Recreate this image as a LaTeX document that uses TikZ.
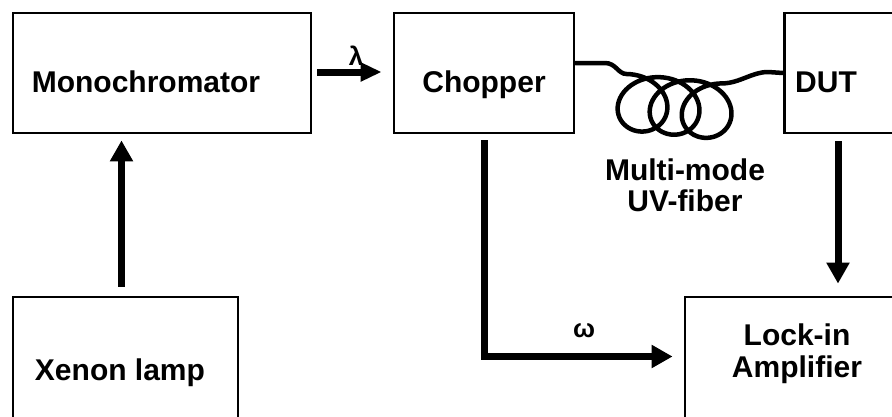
\documentclass[tikz,border=0pt]{standalone}
\usepackage{fontspec}
\setmainfont{Liberation Sans}
\usetikzlibrary{arrows.meta,calc}
\begin{document}
\begin{tikzpicture}[x=1pt,y=-1pt,
  box/.style={draw, line width=2.8pt, inner sep=0pt},
  lbl/.style={font=\fontsize{30}{34}\selectfont\bfseries, anchor=base, inner sep=0pt},
  sym/.style={font=\fontsize{26}{30}\selectfont\bfseries, anchor=base, inner sep=0pt},
  arr/.style={line width=7pt, -{Triangle[length=21pt,width=22pt]}},
  arrsmall/.style={line width=7pt, -{Triangle[length=21pt,width=18pt]}},
  fiber/.style={line width=4.5pt, line join=round, line cap=round}
]
\useasboundingbox (0,0) rectangle (892,416);
\clip (0,0) rectangle (892,416);
% boxes
\node[box, minimum width=298pt, minimum height=120pt] (mono) at (162,73) {};
\node[box, minimum width=180pt, minimum height=120pt] (chop) at (484,73) {};
\node[box, minimum width=175pt, minimum height=120pt] (dut) at (872,73) {};
\node[box, minimum width=225pt, minimum height=163pt] (xen) at (125.5,378.5) {};
\node[box, minimum width=275pt, minimum height=163pt] (lock) at (822.5,378.5) {};
% texts
\node[lbl] (tmono) at (146,92) {Monochromator};
\node[lbl] (tchop) at (484,92) {Chopper};
\node[lbl] (tdut) at (826,92) {DUT};
\node[lbl] (txen) at (120,380) {Xenon lamp};
\node[lbl] (tlock1) at (797,345) {Lock-in};
\node[lbl] (tlock2) at (797,377) {Amplifier};
\node[lbl] (tmm1) at (685,180) {Multi-mode};
\node[lbl] (tmm2) at (685,211) {UV-fiber};
\node[sym] (lam) at (356,65) {λ};
\node[sym] (om) at (584,337) {ω};
% arrows
\coordinate (x1) at ([xshift=-4pt,yshift=9pt]xen.north);
\draw[arr] (x1) -- ([yshift=-6pt]mono.south -| x1);
\draw[arrsmall] ([xshift=5pt,yshift=1pt]mono.east) -- ([xshift=-11pt,yshift=1pt]chop.west);
\draw[arr] ([yshift=-6pt]chop.south) |- ([xshift=-11pt,yshift=22pt]lock.west);
\coordinate (d1) at ([xshift=-34pt,yshift=-7pt]dut.south);
\draw[arr] (d1) -- ([yshift=12pt]d1 |- lock.north);
% fiber
\draw[fiber] ([yshift=10pt]chop.east) -- (605,63) .. controls (616,63) and (618,74) .. (626.5,74)
  -- plot[smooth, samples=180, domain=0:18.85, variable=\t]
     ({626.5 + 5.1*\t + 32.5*sin(\t r)}, {102 - 28*cos(\t r) + 0.5*\t})
  .. controls (740,83) and (752,72) .. (768,72) -- (dut.west);
\end{tikzpicture}
\end{document}
